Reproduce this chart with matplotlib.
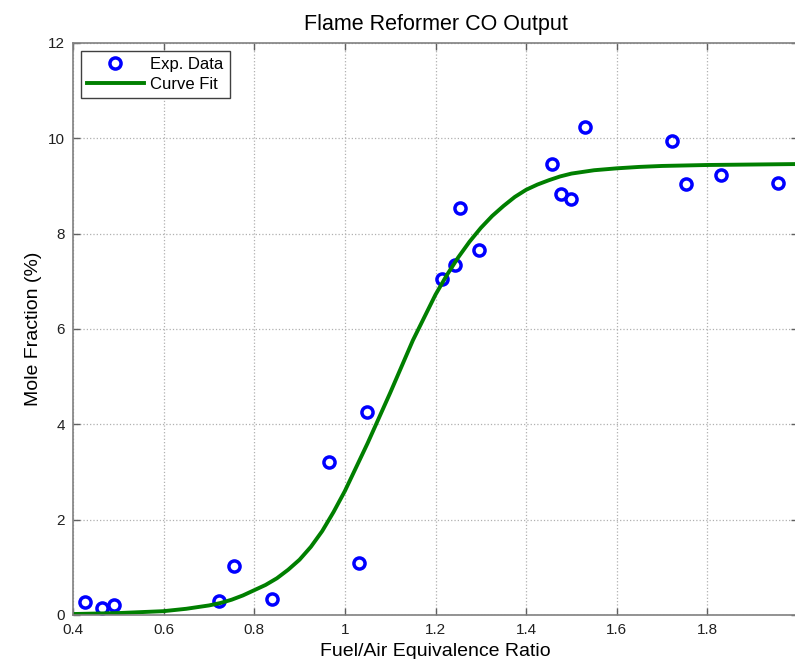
import matplotlib.pyplot as plt
import numpy as np

plt.rcParams['font.family'] = ['Liberation Sans', 'DejaVu Sans']

# measured CO mole fraction vs equivalence ratio
phi_exp = [0.426, 0.464, 0.490, 0.722, 0.755, 0.839, 0.965, 1.031, 1.048,
           1.214, 1.242, 1.253, 1.297, 1.458, 1.476, 1.500, 1.531, 1.723,
           1.752, 1.831, 1.955]
co_exp = [0.27, 0.15, 0.21, 0.29, 1.03, 0.34, 3.21, 1.09, 4.26,
          7.05, 7.34, 8.54, 7.66, 9.46, 8.83, 8.73, 10.24, 9.94,
          9.04, 9.23, 9.06]

# fitted curve
phi_fit = [0.40, 0.45, 0.50, 0.55, 0.60, 0.65, 0.70, 0.725, 0.75, 0.775,
           0.80, 0.825, 0.85, 0.875, 0.90, 0.925, 0.95, 0.975, 1.00, 1.05,
           1.10, 1.15, 1.20, 1.225, 1.25, 1.275, 1.30, 1.325, 1.35, 1.375,
           1.40, 1.425, 1.45, 1.475, 1.50, 1.55, 1.60, 1.65, 1.70, 1.80,
           1.90, 2.00]
co_fit = [0.02, 0.03, 0.04, 0.06, 0.08, 0.13, 0.20, 0.25, 0.32, 0.41,
          0.52, 0.63, 0.77, 0.95, 1.16, 1.43, 1.76, 2.16, 2.60, 3.60,
          4.66, 5.76, 6.72, 7.13, 7.50, 7.83, 8.12, 8.37, 8.58, 8.77,
          8.92, 9.03, 9.12, 9.20, 9.26, 9.33, 9.37, 9.40, 9.42, 9.44,
          9.45, 9.46]

fig = plt.figure(figsize=(7.95, 6.59), dpi=100)
ax = fig.add_axes([0.0918, 0.0668, 0.912, 0.868])

ax.plot(phi_exp, co_exp, 'o', ms=8, mfc='none', mec='#0000ff', mew=2.5,
        label='Exp. Data')
ax.plot(phi_fit, co_fit, '-', color='#007f00', lw=2.8, label='Curve Fit')

ax.set_xlim(0.4, 2.0)
ax.set_ylim(0, 12)
ax.set_xticks(np.arange(0.4, 2.01, 0.2))
ax.set_xticklabels(['0.4', '0.6', '0.8', '1', '1.2', '1.4', '1.6', '1.8', '2'])
ax.set_yticks(range(0, 13, 2))

ax.grid(True, linestyle=':', color='#b0b0b0', lw=0.9)
ax.tick_params(direction='in', top=True, right=True, length=5, width=1,
               color='#606060', labelsize=11, labelcolor='#202020', pad=6)
for sp in ax.spines.values():
    sp.set_color('#808080')
    sp.set_linewidth(1.2)

ax.set_title('Flame Reformer CO Output', fontsize=15.5, pad=9)
ax.set_xlabel('Fuel/Air Equivalence Ratio', fontsize=14, labelpad=4)
ax.set_ylabel('Mole Fraction (%)', fontsize=14, labelpad=4)

leg = ax.legend(loc='upper left', fontsize=12, fancybox=False, framealpha=1,
                edgecolor='#404040', handlelength=3.4, borderaxespad=0.5,
                numpoints=1, borderpad=0.35, labelspacing=0.3,
                handletextpad=0.4)
leg.get_frame().set_linewidth(1.0)

fig.savefig('out.png', dpi=100)
